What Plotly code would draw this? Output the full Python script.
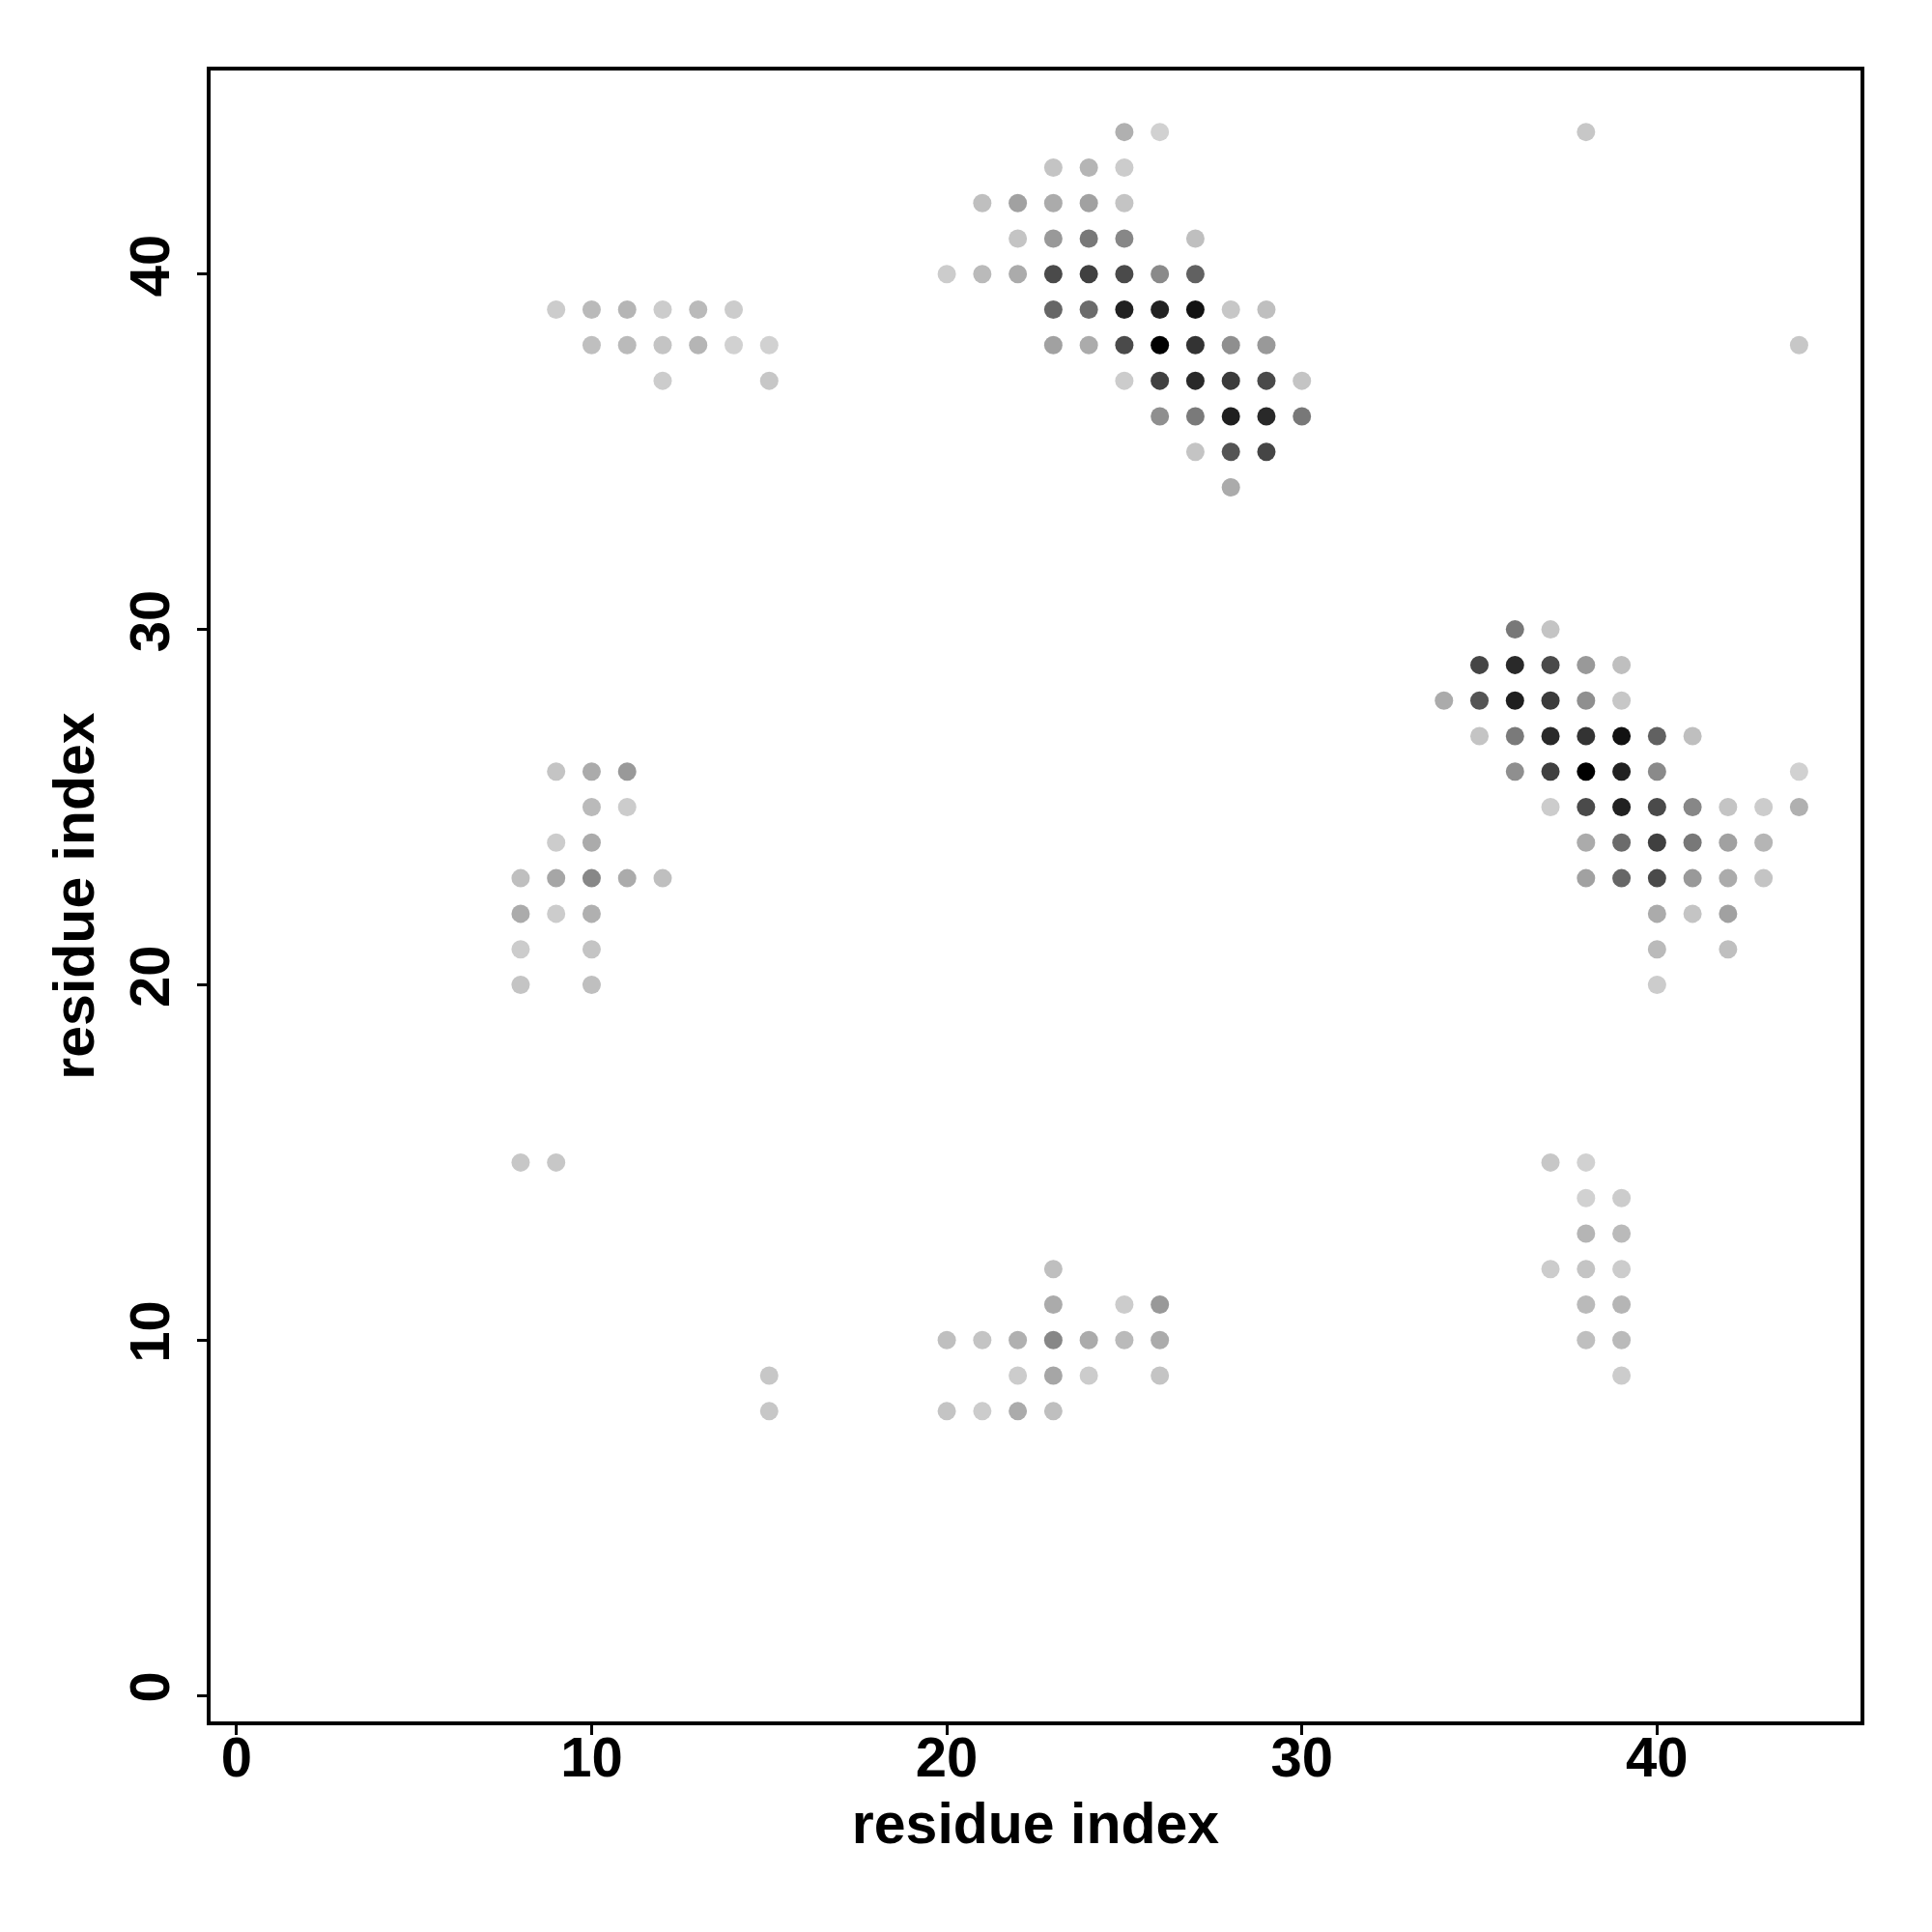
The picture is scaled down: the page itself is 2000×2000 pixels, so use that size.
import plotly.graph_objects as go

# Contact pairs (residue_i < residue_j) and contact strength (0..1)
res_i = [25, 26,
         23, 24, 25,
         21, 22, 23, 24, 25,
         22, 23, 24, 25, 27,
         20, 21, 22, 23, 24, 25, 26, 27,
         23, 24, 25, 26, 27, 28, 29,
         23, 24, 25, 26, 27, 28, 29,
         25, 26, 27, 28, 29, 30,
         26, 27, 28, 29, 30,
         27, 28, 29,
         28,
         9, 10, 11, 12, 13, 14,
         10, 11, 12, 13, 14, 15,
         12, 15,
         9, 10, 11,
         10, 11,
         9, 10,
         8, 9, 10, 11, 12,
         8, 9, 10,
         8, 10,
         8, 10,
         8, 9, 38]
res_j = [44, 44,
         43, 43, 43,
         42, 42, 42, 42, 42,
         41, 41, 41, 41, 41,
         40, 40, 40, 40, 40, 40, 40, 40,
         39, 39, 39, 39, 39, 39, 39,
         38, 38, 38, 38, 38, 38, 38,
         37, 37, 37, 37, 37, 37,
         36, 36, 36, 36, 36,
         35, 35, 35,
         34,
         39, 39, 39, 39, 39, 39,
         38, 38, 38, 38, 38, 38,
         37, 37,
         26, 26, 26,
         25, 25,
         24, 24,
         23, 23, 23, 23, 23,
         22, 22, 22,
         21, 21,
         20, 20,
         15, 15, 44]
strength = [0.31, 0.18,
            0.23, 0.29, 0.20,
            0.25, 0.37, 0.33, 0.37, 0.23,
            0.23, 0.40, 0.53, 0.47, 0.25,
            0.20, 0.27, 0.33, 0.71, 0.75, 0.71, 0.46, 0.62,
            0.60, 0.58, 0.87, 0.87, 0.93, 0.22, 0.25,
            0.37, 0.33, 0.71, 1.00, 0.80, 0.44, 0.40,
            0.20, 0.75, 0.84, 0.77, 0.71, 0.23,
            0.44, 0.52, 0.88, 0.84, 0.53,
            0.23, 0.67, 0.73,
            0.33,
            0.20, 0.27, 0.29, 0.20, 0.27, 0.20,
            0.25, 0.27, 0.23, 0.29, 0.18, 0.18,
            0.20, 0.22,
            0.23, 0.33, 0.40,
            0.27, 0.20,
            0.20, 0.33,
            0.25, 0.35, 0.47, 0.33, 0.25,
            0.33, 0.20, 0.31,
            0.20, 0.23,
            0.23, 0.25,
            0.22, 0.22, 0.22]

tick_vals = [0, 10, 20, 30, 40]
tick_text = ["0", "10", "20", "30", "40"]
axis_title = "residue index"

# symmetric contact map: plot (i, j) and (j, i)
xs = res_i + res_j
ys = res_j + res_i
vals = strength + strength


def grey(p):
    g = int(round(255 * (1 - p)))
    return f"rgb({g},{g},{g})"


colors = [grey(v) for v in vals]

fig = go.Figure(go.Scatter(
    x=xs, y=ys, mode="markers",
    marker=dict(size=19, color=colors, line=dict(width=0)),
    hoverinfo="skip", showlegend=False,
))

font_fam = "Liberation Sans, Arial, Helvetica, sans-serif"
title_font = dict(family=font_fam, size=59, color="black", weight="bold")
axis_common = dict(
    range=[-0.73, 45.73],
    tickvals=tick_vals, ticktext=tick_text,
    ticks="outside", ticklen=10, tickwidth=3, tickcolor="black",
    showline=True, linewidth=4, linecolor="black", mirror=True,
    showgrid=False, zeroline=False,
    tickfont=dict(family=font_fam, size=58, color="black", weight="bold"),
)

fig.update_layout(
    width=2000, height=2000, autosize=False,
    margin=dict(l=210, r=82, t=65, b=226),
    paper_bgcolor="white", plot_bgcolor="white",
    xaxis=dict(**axis_common, ticklabelstandoff=-27,
               title=dict(text=axis_title, standoff=18, font=title_font)),
    yaxis=dict(**axis_common, tickangle=-90, ticklabelstandoff=6,
               title=dict(text=axis_title, standoff=6, font=title_font)),
)

fig.write_html("out.html")
